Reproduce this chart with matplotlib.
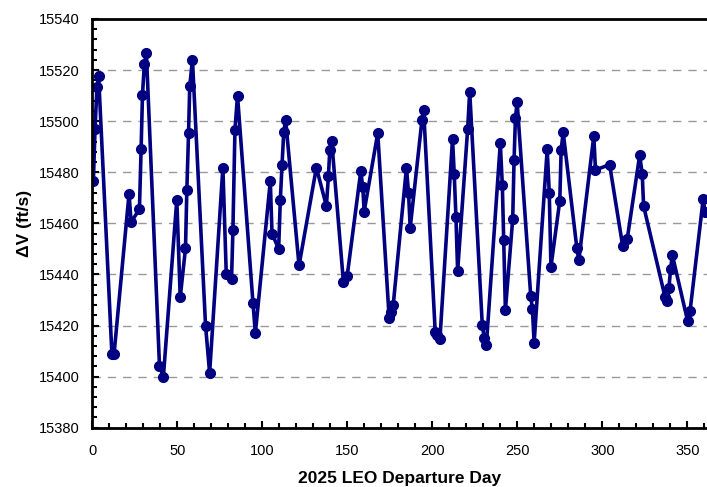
import matplotlib.pyplot as plt
from matplotlib.ticker import MultipleLocator

plt.rcParams['font.family'] = ['Liberation Sans', 'DejaVu Sans']

# departure day and delta-V (ft/s)
day = [0.6, 1.6, 2.7, 3.7, 11.5, 12.8, 21.6, 22.8, 27.7, 28.7, 29.5, 30.6, 31.8,
       39.5, 41.8, 49.7, 51.7, 54.8, 55.6, 56.6, 57.3, 58.9, 66.6, 69.0,
       76.8, 78.8, 81.9, 82.7, 83.9, 85.4, 94.5, 95.9, 104.7, 105.7, 109.6,
       110.6, 111.6, 112.6, 113.7, 121.6, 131.8, 137.7, 138.9, 139.7, 140.8,
       147.7, 149.9, 157.9, 159.1, 159.9, 167.9, 174.6, 175.6, 177.0, 184.8,
       186.0, 187.0, 193.9, 194.9, 201.7, 202.9, 204.5, 211.9, 212.9, 213.9,
       214.9, 220.8, 222.0, 229.4, 230.6, 231.8, 240.0, 241.2, 242.0, 243.0,
       247.3, 248.1, 248.9, 249.9, 257.9, 258.9, 259.9, 267.6, 268.8, 269.8,
       275.0, 275.8, 277.0, 285.0, 286.2, 295.0, 296.0, 304.3, 312.0, 314.7,
       322.0, 323.5, 324.3, 336.9, 338.0, 339.2, 340.2, 341.2, 350.2, 351.6,
       359.4, 360.4]
dv = [15476.5, 15497, 15513.3, 15517.6, 15409, 15409, 15471.6, 15460.5, 15465.5,
      15489.2, 15510.3, 15522.4, 15526.5, 15404.3, 15400, 15469.3, 15431, 15450.2,
      15473, 15495.2, 15513.7, 15524, 15420, 15401.4, 15481.8, 15440, 15438.3,
      15457.4, 15496.6, 15510, 15428.9, 15417, 15476.5, 15456, 15450, 15469.3,
      15483, 15495.6, 15500.5, 15443.5, 15481.8, 15466.8, 15478.7, 15488.8,
      15492.3, 15437.1, 15439.3, 15480.3, 15474.4, 15464.6, 15495.3, 15423.1,
      15425.4, 15428, 15481.8, 15472, 15458.3, 15500.3, 15504.4, 15417.6, 15416.2,
      15414.9, 15493, 15479.3, 15462.6, 15441.3, 15497, 15511.6, 15420.3, 15415,
      15412.3, 15491.4, 15474.9, 15453.5, 15426, 15461.7, 15484.8, 15501.2,
      15507.5, 15431.6, 15426.4, 15413.3, 15489, 15472, 15443, 15468.9, 15488.8,
      15495.6, 15450.5, 15445.5, 15494.2, 15480.9, 15483, 15451.1, 15454, 15486.7,
      15479.3, 15466.8, 15431.2, 15429.5, 15434.8, 15442.2, 15447.6, 15421.8,
      15425.5, 15469.7, 15464.6]

fig = plt.figure(figsize=(7.07, 4.87), dpi=100)
ax = fig.add_axes([0.1306, 0.1218, 0.8694, 0.8392])

ax.plot(day, dv, color='#000080', lw=2.6, marker='o', ms=7, clip_on=True)

ax.set_xlim(0, 361.6)
ax.set_ylim(15380, 15540)
ax.xaxis.set_major_locator(MultipleLocator(50))
ax.xaxis.set_minor_locator(MultipleLocator(10))
ax.yaxis.set_major_locator(MultipleLocator(20))
ax.yaxis.set_minor_locator(MultipleLocator(4))
ax.tick_params(which='both', direction='in', labelsize=10.5, width=1.5)
ax.tick_params(which='major', length=5)
ax.tick_params(which='minor', length=3.5)
ax.tick_params(axis='x', pad=12)
ax.tick_params(axis='y', pad=9)
ax.grid(axis='y', which='major', ls=(0, (6, 5)), color='#999999', lw=1)

for s in ['left', 'bottom', 'top']:
    ax.spines[s].set_linewidth(2)
ax.spines['right'].set_visible(False)

ax.set_xlabel('2025 LEO Departure Day', fontweight='bold', fontsize=12.5, labelpad=9)
ax.set_ylabel('ΔV (ft/s)', fontweight='bold', fontsize=12.5, labelpad=5)

plt.savefig('out.png')
